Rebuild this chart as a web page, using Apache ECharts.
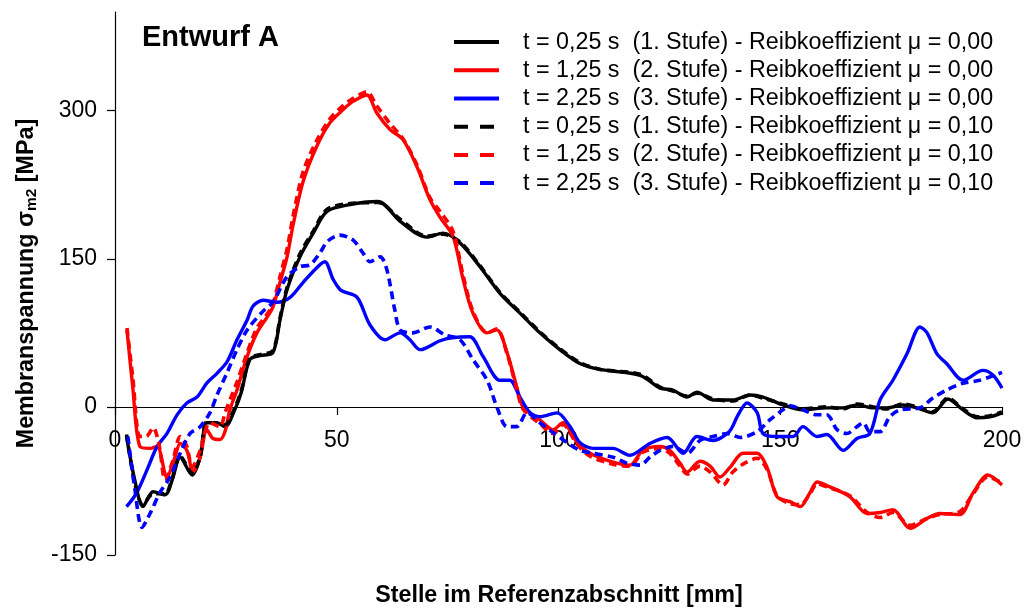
<!DOCTYPE html>
<html>
<head>
<meta charset="utf-8">
<script src="https://cdn.jsdelivr.net/npm/echarts@6/dist/echarts.min.js"></script>
<style>
  html, body { margin: 0; padding: 0; background: #fff; }
  #chart { width: 1024px; height: 610px; }
</style>
</head>
<body>
<div id="chart"></div>
<script>
// Membrane stress along the reference section, design A

const xTicks = [0, 50, 100, 150, 200];
const yTicks = [-150, 0, 150, 300];

const seriesNames = [
  't = 0,25 s  (1. Stufe) - Reibkoeffizient μ = 0,00',
  't = 1,25 s  (2. Stufe) - Reibkoeffizient μ = 0,00',
  't = 2,25 s  (3. Stufe) - Reibkoeffizient μ = 0,00',
  't = 0,25 s  (1. Stufe) - Reibkoeffizient μ = 0,10',
  't = 1,25 s  (2. Stufe) - Reibkoeffizient μ = 0,10',
  't = 2,25 s  (3. Stufe) - Reibkoeffizient μ = 0,10'
];

// [position mm, stress MPa]
const stage1Mu000 = [[2.6,-30],[4.5,-75],[6.3,-101],[8.6,-86],[11.3,-89],[12.9,-74],[14.7,-51],[17.4,-69],[19.2,-51],[20.7,-16],[23,-16],[24.8,-20],[27,-3],[28.5,15],[30.4,48],[32.7,52],[35.6,55],[37.2,88],[38.8,119],[41.7,152],[44.7,176],[47.8,198],[53,205],[59.3,208],[64.3,188],[70.3,172],[74,176],[77.8,166],[82.3,142],[86.8,115],[91.3,95],[95.8,75],[100.3,58],[104.8,44],[109.4,38],[118.4,32],[122.9,19],[125.8,17],[129,10],[131.2,15],[134.8,7],[139.3,7],[143.2,12],[146.1,10],[150.6,2],[155,-3],[160.5,-1],[164.2,-1],[167.3,2],[171,-1],[174,-1],[177.7,2],[180.8,-1],[184.4,-6],[187.8,8],[191.2,-3],[194.4,-11],[197.3,-10],[200,-6]];

const stage2Mu000 = [[2.7,78],[4,20],[5.6,-40],[7.9,-42],[9.5,-40],[11.7,-71],[13.5,-51],[14.7,-37],[16.2,-44],[17.6,-66],[19.2,-51],[20.7,-23],[22.1,-32],[23.7,-33],[24.8,-25],[25.9,-3],[27.5,17],[29.8,51],[32,75],[34.3,91],[35.6,101],[37.2,126],[38.8,152],[40.1,183],[42.4,228],[45.5,264],[48.5,288],[51.4,301],[53.5,309],[56.8,316],[59,298],[62,281],[64.9,271],[68.1,243],[71,210],[73.3,192],[76.2,173],[78.5,129],[80.7,95],[83.9,75],[86.1,78],[88.4,55],[90.6,20],[92,0],[95.8,-13],[98.8,-23],[101,-16],[104.2,-36],[107.1,-47],[112.3,-56],[116.1,-59],[119,-44],[122.9,-40],[125.1,-44],[127.4,-57],[129,-66],[131.9,-55],[134.2,-60],[136.4,-71],[138.7,-61],[141.6,-47],[144.8,-47],[147,-61],[149.3,-91],[152.2,-96],[154.5,-101],[156.7,-87],[158.3,-76],[161.2,-81],[165.7,-91],[169.6,-108],[172.5,-107],[175.4,-104],[179.3,-123],[183.1,-113],[186,-108],[190.5,-109],[193.5,-87],[196.8,-69],[200,-79]];

const stage3Mu000 = [[2.6,-101],[4.9,-87],[7.2,-64],[9.5,-40],[11.7,-27],[14,-8],[16.2,4],[18.5,10],[20.7,24],[23,34],[25.3,46],[27.5,68],[29.8,88],[31.1,102],[33.4,108],[36.5,106],[39.5,111],[42.4,126],[45.5,141],[47.3,147],[49.2,129],[50.7,119],[51.4,117],[54.6,111],[57.5,83],[60.9,68],[64.3,75],[66.5,68],[68.8,58],[73.3,67],[76,70],[80,71],[83,51],[86.8,27],[89,27],[91.3,10],[93.6,-6],[95.8,-10],[99.7,-6],[102.6,-20],[104.8,-36],[107.8,-42],[112.3,-42],[116.1,-49],[120.6,-37],[124.5,-31],[128.1,-47],[131.2,-30],[134.8,-34],[138.5,-25],[140.5,-8],[142.5,4],[144.8,-6],[146.1,-27],[149.3,-30],[152.9,-30],[155.1,-20],[158.3,-30],[160.5,-28],[164.2,-44],[167.3,-32],[170.2,-27],[172.5,7],[175.4,27],[178.6,54],[181.5,81],[183.1,75],[185.3,54],[187.5,44],[191.2,27],[195.7,37],[198,32],[200,19]];

const stage1Mu010 = [[2.6,-28],[4.5,-78],[6.3,-99],[8.6,-88],[11.3,-88],[12.9,-72],[14.7,-50],[17.4,-67],[19.2,-50],[20.7,-15],[23,-17],[24.8,-18],[27,-1],[28.5,17],[30.4,49],[32.7,53],[35.6,57],[37.2,90],[38.8,121],[41.7,155],[44.7,178],[47.8,200],[53,206],[59.3,207],[64.3,190],[70.3,173],[74,175],[77.8,167],[82.3,143],[86.8,116],[91.3,96],[95.8,76],[100.3,59],[104.8,45],[109.4,38],[118.4,33],[122.9,20],[125.8,16],[129,11],[131.2,14],[134.8,8],[139.3,6],[143.2,12],[146.1,9],[150.6,3],[155,-2],[160.5,0],[164.2,-2],[167.3,3],[171,0],[174,-2],[177.7,3],[180.8,0],[184.4,-5],[187.8,9],[191.2,-2],[194.4,-10],[197.3,-9],[200,-5]];

const stage2Mu010 = [[2.7,80],[4,30],[5.6,-30],[7,-30],[8.6,-21],[10,-40],[11.3,-74],[13,-55],[14.7,-30],[16.2,-40],[17.4,-61],[19.2,-44],[21.4,-16],[23.7,-20],[24.8,-6],[26,8],[27.5,25],[29.8,55],[32,80],[34.3,94],[35.6,104],[37.2,132],[38.8,160],[40.1,192],[42.4,238],[45.5,270],[48.5,292],[51.4,305],[53.5,312],[56.8,319],[59,305],[62,287],[64.9,272],[68.1,245],[71,212],[73.3,198],[76.2,178],[78.5,133],[80.7,97],[83.9,75],[86.1,79],[88.4,54],[90.6,18],[92,-2],[95.8,-17],[98.8,-27],[101,-18],[104.2,-38],[107.1,-50],[112.3,-58],[116.1,-60],[119,-46],[122.9,-42],[125.1,-47],[127.4,-60],[129,-68],[131.9,-60],[134.2,-66],[137.1,-79],[139.3,-66],[141.6,-58],[144.8,-52],[147,-63],[149.3,-90],[152.2,-98],[154.5,-99],[156.7,-88],[158.3,-78],[161.2,-82],[165.7,-90],[169.6,-107],[172.5,-112],[175.4,-107],[179.3,-120],[183.1,-113],[186,-109],[190.5,-106],[193.5,-88],[196.8,-71],[200,-77]];

const stage3Mu010 = [[2.9,-30],[4.5,-84],[6.1,-122],[7.9,-108],[10.1,-87],[12.4,-71],[14.7,-47],[16.9,-27],[19.2,-20],[21.4,-6],[23,12],[25.3,35],[27.5,58],[29.8,78],[33.4,97],[35.6,106],[38.8,132],[41.7,142],[44,144],[46.2,156],[48,168],[50.7,174],[53.7,169],[55.9,156],[57.5,147],[59.8,152],[61.3,139],[63.1,98],[64.3,78],[67.2,75],[71,81],[74.4,73],[77.8,68],[80.7,48],[83.9,27],[86.1,0],[88.4,-20],[90.6,-20],[92.9,-6],[95.8,-16],[98.8,-26],[101.9,-36],[104.8,-44],[107.8,-47],[112.3,-51],[115.4,-57],[118.4,-59],[120.6,-51],[122.9,-44],[125.8,-40],[129,-47],[131.9,-34],[134.8,-30],[138,-27],[141,-31],[144.8,-25],[147.7,-13],[150.6,-3],[152.2,1],[155.1,-3],[158.3,-8],[160.5,-8],[162.8,-23],[165,-27],[167.3,-20],[168.7,-16],[170.2,-25],[172.5,-25],[174.7,-10],[177,-3],[181.5,-1],[184.4,9],[187.5,17],[191.2,24],[195,27],[200,35]];

const seriesData = [stage1Mu000, stage2Mu000, stage3Mu000, stage1Mu010, stage2Mu010, stage3Mu010];
const seriesColors = ['#000000', '#ff0000', '#0000ff', '#000000', '#ff0000', '#0000ff'];

const FONT = '"Liberation Sans", Arial, sans-serif';
const chart = echarts.init(document.getElementById('chart'), null, { renderer: 'canvas' });

const series = seriesData.map((d, i) => {
  const dashed = i >= 3;
  return {
    name: seriesNames[i],
    type: 'line',
    data: d,
    symbol: 'none',
    smooth: 0.3,
    lineStyle: {
      color: seriesColors[i],
      width: dashed ? 3.6 : 3.4,
      type: dashed ? [8, 5] : 'solid',
      cap: 'butt'
    },
    itemStyle: { color: seriesColors[i] },
    z: 2 + i
  };
});

chart.setOption({
  animation: false,
  backgroundColor: '#ffffff',
  textStyle: { fontFamily: FONT },
  title: {
    text: 'Entwurf A',
    left: 137,
    top: 18,
    textStyle: { fontFamily: FONT, fontSize: 29, fontWeight: 'bold', color: '#000' }
  },
  legend: {
    orient: 'vertical',
    left: 447,
    top: 23,
    itemWidth: 45,
    itemHeight: 14,
    itemGap: 0,
    textStyle: { fontFamily: FONT, fontSize: 23.3, color: '#000', lineHeight: 28.2, padding: [0, 0, 0, 19] },
    data: seriesNames.map((n, i) => ({
      name: n,
      itemStyle: { opacity: 0 },
      lineStyle: { width: 4, opacity: 1, type: i >= 3 ? [14, 12] : 'solid', color: seriesColors[i], cap: 'butt' }
    }))
  },
  grid: { left: 115, right: 22, top: 12, bottom: 55, containLabel: false, outerBoundsMode: 'none' },
  graphic: [{
    type: 'text',
    style: {
      text: 'Stelle im Referenzabschnitt [mm]',
      x: 559,
      y: 596,
      align: 'center',
      verticalAlign: 'middle',
      font: 'bold 23.3px ' + FONT,
      fill: '#000'
    }
  }],
  xAxis: {
    type: 'value',
    min: 0,
    max: 200,
    interval: 50,
    position: 'bottom',
    offset: -148,
    axisLine: { onZero: false, lineStyle: { color: '#000', width: 1.2 } },
    axisTick: { show: true, length: 8, lineStyle: { color: '#000', width: 1.2 }, customValues: xTicks },
    axisLabel: { fontFamily: FONT, fontSize: 23, color: '#000', margin: 22, customValues: xTicks },
    splitLine: { show: false }
  },
  yAxis: {
    type: 'value',
    min: -150,
    max: 400,
    interval: 150,
    name: '{a|Membranspannung σ}{b|m2}{a| [MPa]}',
    nameLocation: 'middle',
    nameRotate: 90,
    nameGap: 74,
    nameTextStyle: {
      rich: {
        a: { fontFamily: FONT, fontSize: 23.3, fontWeight: 'bold', color: '#000', lineHeight: 26, verticalAlign: 'middle' },
        b: { fontFamily: FONT, fontSize: 15.5, fontWeight: 'bold', color: '#000', lineHeight: 15, verticalAlign: 'bottom' }
      }
    },
    axisLine: { show: true, onZero: false, lineStyle: { color: '#000', width: 1.2 } },
    axisTick: { show: true, length: 8, lineStyle: { color: '#000', width: 1.2 }, customValues: yTicks },
    axisLabel: { fontFamily: FONT, fontSize: 23, color: '#000', margin: 18, customValues: yTicks },
    splitLine: { show: false }
  },
  series: series
});
</script>
</body>
</html>
